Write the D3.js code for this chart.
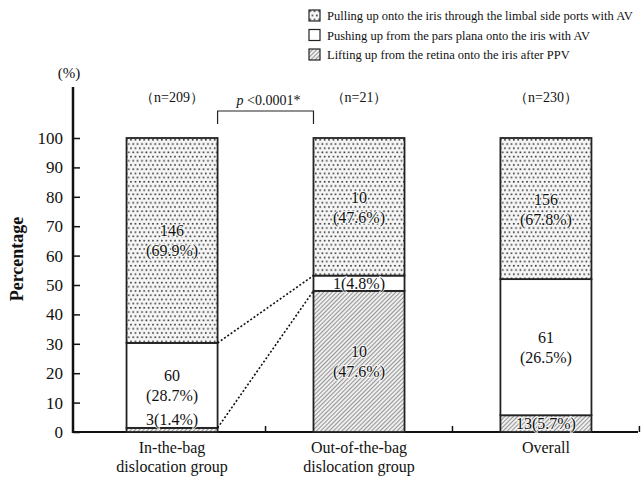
<!DOCTYPE html>
<html>
<head>
<meta charset="utf-8">
<script src="https://cdn.jsdelivr.net/npm/d3@7"></script>
<style>
  body { margin: 0; background: #fff; }
  svg text { font-family: "Liberation Serif", "Times New Roman", serif; fill: #111; }
  .seg { paint-order: stroke; stroke: #fff; stroke-width: 2px; stroke-opacity: 0.8; }
</style>
</head>
<body>
<svg id="chart" width="641" height="478"></svg>
<script>
// categories and series
var groups = ["In-the-bag|dislocation group", "Out-of-the-bag|dislocation group", "Overall"];
var groupN = [209, 21, 230];
var seriesNames = ["Lifting", "Pushing", "Pulling"];
// printed counts / percentages
var liftingCount = [3, 10, 13];
var liftingPct = [1.4, 47.6, 5.7];
var pushingCount = [60, 1, 61];
var pushingPct = [28.7, 4.8, 26.5];
var pullingCount = [146, 10, 156];
var pullingPct = [69.9, 47.6, 67.8];
// segment heights as drawn in the figure
var liftingDrawn = [1.4, 48.0, 5.7];
var pushingDrawn = [28.9, 5.2, 46.3];
var pullingDrawn = [69.7, 46.8, 48.0];
var legendLabels = [
  "Pulling up onto the iris through the limbal side ports with AV",
  "Pushing up from the pars plana onto the iris with AV",
  "Lifting up from the retina onto the iris after PPV"
];
var legendKeys = ["Pulling", "Pushing", "Lifting"];
var yTicks = [0, 10, 20, 30, 40, 50, 60, 70, 80, 90, 100];

var svg = d3.select("#chart");

// patterns
var defs = svg.append("defs");
var dots = defs.append("pattern").attr("id", "dots")
  .attr("patternUnits", "userSpaceOnUse").attr("width", 4.4).attr("height", 8.4);
dots.append("rect").attr("width", 4.4).attr("height", 8.4).attr("fill", "#f6f6f6");
dots.append("rect").attr("x", 0.4).attr("y", 0.4).attr("width", 1.6).attr("height", 1.6).attr("fill", "#333");
dots.append("rect").attr("x", 2.6).attr("y", 4.6).attr("width", 1.6).attr("height", 1.6).attr("fill", "#333");

var hatch = defs.append("pattern").attr("id", "hatch")
  .attr("patternUnits", "userSpaceOnUse").attr("width", 3).attr("height", 3)
  .attr("patternTransform", "rotate(45)");
hatch.append("rect").attr("width", 3).attr("height", 3).attr("fill", "#eeeeee");
hatch.append("line").attr("x1", 0).attr("y1", 0).attr("x2", 0).attr("y2", 3)
  .attr("stroke", "#4a4a4a").attr("stroke-width", 1.1);

var fills = { Lifting: "url(#hatch)", Pushing: "#fff", Pulling: "url(#dots)" };

// scales
var x = d3.scaleBand().domain(groups).range([77, 641]).paddingInner(0.513).paddingOuter(0.265);
var y = d3.scaleLinear().domain([0, 100]).range([432, 138]);
var bw = x.bandwidth();

// stacked rows
var rows = groups.map(function(g, i) {
  return { group: g, Lifting: liftingDrawn[i], Pushing: pushingDrawn[i], Pulling: pullingDrawn[i],
           counts: { Lifting: liftingCount[i], Pushing: pushingCount[i], Pulling: pullingCount[i] },
           pcts: { Lifting: liftingPct[i], Pushing: pushingPct[i], Pulling: pullingPct[i] } };
});
var stack = d3.stack().keys(seriesNames);
var layers = stack(rows);

// y axis
var yAxis = d3.axisLeft(y).tickValues(yTicks).tickSize(-7).tickPadding(10);
var yg = svg.append("g").attr("transform", "translate(73,0)").call(yAxis);
yg.select(".domain").remove();
yg.selectAll(".tick line").attr("stroke", "#111").attr("stroke-width", 1.5);
yg.selectAll(".tick text").style("font-size", "17px").style("font-family", "Liberation Serif");
svg.append("line").attr("x1", 73).attr("x2", 73).attr("y1", 87).attr("y2", y(0) + 1)
  .attr("stroke", "#111").attr("stroke-width", 2.5);

// x axis
svg.append("line").attr("x1", 72).attr("x2", 638).attr("y1", y(0)).attr("y2", y(0))
  .attr("stroke", "#111").attr("stroke-width", 2);
svg.selectAll(".xtick").data(groups).enter().append("line")
  .attr("x1", function(d) { return x(d) + bw / 2 + x.step() / 2; })
  .attr("x2", function(d) { return x(d) + bw / 2 + x.step() / 2; })
  .attr("y1", y(0)).attr("y2", y(0) - 6)
  .attr("stroke", "#111").attr("stroke-width", 1.5);

// bars
layers.forEach(function(layer) {
  svg.append("g").selectAll("rect").data(layer).enter().append("rect")
    .attr("x", function(d) { return x(d.data.group); })
    .attr("width", bw)
    .attr("y", function(d) { return y(d[1]); })
    .attr("height", function(d) { return y(d[0]) - y(d[1]); })
    .attr("fill", fills[layer.key])
    .attr("stroke", "#222").attr("stroke-width", 1.8);
});

// segment labels
layers.forEach(function(layer) {
  layer.forEach(function(d) {
    var h = d[1] - d[0];
    var cnt = d.data.counts[layer.key];
    var pct = d.data.pcts[layer.key];
    var cx = x(d.data.group) + bw / 2;
    var mid = (y(d[0]) + y(d[1])) / 2;
    var t = svg.append("text").attr("class", "seg").attr("text-anchor", "middle").style("font-size", "16px");
    if (h < 3) {
      t.attr("x", cx).attr("y", y(d[1]) - 3).text(cnt + "(" + pct.toFixed(1) + "%)");
    } else if (h < 10) {
      t.attr("x", cx).attr("y", mid + 5.5).text(cnt + "(" + pct.toFixed(1) + "%)");
    } else {
      t.attr("x", cx).attr("y", mid - 4).text(cnt);
      svg.append("text").attr("class", "seg").attr("text-anchor", "middle").style("font-size", "16px")
        .attr("x", cx).attr("y", mid + 16).text("(" + pct.toFixed(1) + "%)");
    }
  });
});

// dotted connectors from in-the-bag to out-of-the-bag
var g0 = groups[0], g1 = groups[1];
svg.append("line")
  .attr("x1", x(g0) + bw).attr("y1", y(liftingDrawn[0] + pushingDrawn[0]))
  .attr("x2", x(g1)).attr("y2", y(liftingDrawn[1] + pushingDrawn[1]))
  .attr("stroke", "#111").attr("stroke-width", 1.6).attr("stroke-dasharray", "2,2");
svg.append("line")
  .attr("x1", x(g0) + bw).attr("y1", y(liftingDrawn[0]))
  .attr("x2", x(g1)).attr("y2", y(liftingDrawn[1]))
  .attr("stroke", "#111").attr("stroke-width", 1.6).attr("stroke-dasharray", "2,2");

// group labels
groups.forEach(function(g, i) {
  var cx = x(g) + bw / 2;
  g.split("|").forEach(function(line, j) {
    svg.append("text").attr("text-anchor", "middle").style("font-size", "16px")
      .attr("x", cx).attr("y", 453 + j * 19).text(line);
  });
  svg.append("text").attr("text-anchor", "middle").style("font-size", "14px")
    .attr("x", cx).attr("y", 102).text("（n=" + groupN[i] + "）");
});

// significance bracket
var bx1 = x(g0) + bw, bx2 = x(g1);
svg.append("path")
  .attr("d", "M" + bx1 + ",124V111H" + bx2 + "V124")
  .attr("fill", "none").attr("stroke", "#222").attr("stroke-width", 1.2);
var pt = svg.append("text").attr("text-anchor", "middle").style("font-size", "14px")
  .attr("x", (bx1 + bx2) / 2 + 3).attr("y", 105);
pt.append("tspan").style("font-style", "italic").text("p");
pt.append("tspan").text(" <0.0001*");

// axis unit and title
svg.append("text").attr("x", 69).attr("y", 78).attr("text-anchor", "middle")
  .style("font-size", "15px").text("(%)");
svg.append("text").attr("transform", "translate(23,259) rotate(-90)")
  .attr("text-anchor", "middle").style("font-size", "18px").style("font-weight", "bold")
  .text("Percentage");

// legend
var leg = svg.append("g").attr("transform", "translate(309,10)");
legendKeys.forEach(function(k, i) {
  leg.append("rect").attr("x", 0).attr("y", i * 19.5).attr("width", 11).attr("height", 11)
    .attr("fill", fills[k]).attr("stroke", "#222").attr("stroke-width", 1.2);
  leg.append("text").attr("x", 18).attr("y", i * 19.5 + 10).style("font-size", "12.5px")
    .text(legendLabels[i]);
});
</script>
</body>
</html>
